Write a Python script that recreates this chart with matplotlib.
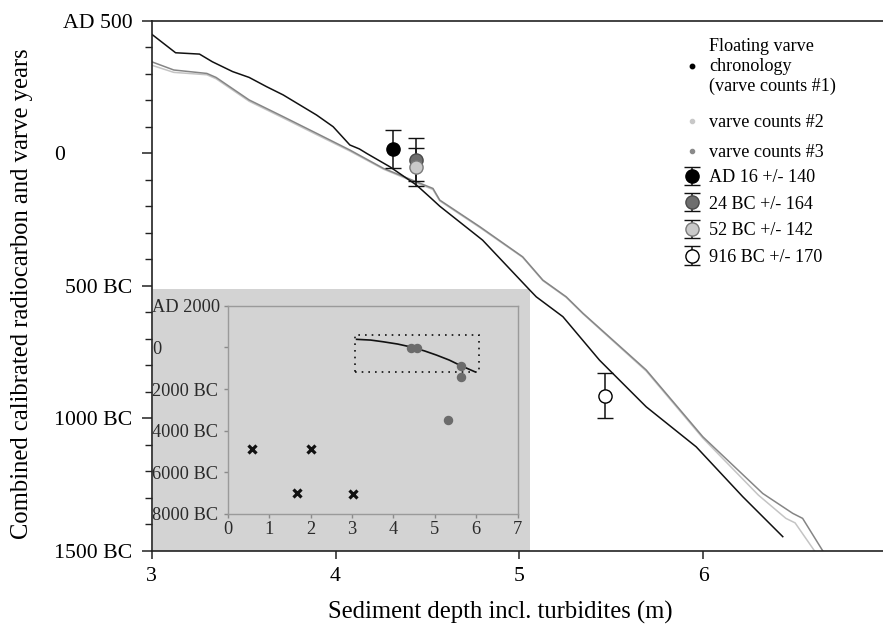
import matplotlib
matplotlib.use("Agg")
import matplotlib.pyplot as plt
from matplotlib.lines import Line2D
from matplotlib.patches import Rectangle

plt.rcParams['font.family'] = ['Liberation Serif', 'DejaVu Serif']

# ---------------- data ----------------
# Floating varve chronology (varve counts #1): depth (m), year (AD +, BC -)
depth1 = [3.00, 3.13, 3.26, 3.33, 3.44, 3.53, 3.625, 3.715, 3.806, 3.897, 3.987,
          4.078, 4.13, 4.17, 4.295, 4.44, 4.52, 4.567, 4.80, 5.056, 5.092, 5.237,
          5.436, 5.69, 5.962, 6.215, 6.433]
years1 = [449, 379, 374, 345, 308, 286, 251, 220, 182, 144, 100,
          31, 16, -1, -51, -120, -170, -200, -328, -516, -542, -617,
          -781, -957, -1108, -1296, -1447]

# varve counts #2
depth2 = [3.00, 3.12, 3.30, 3.35, 3.53, 3.715, 3.897, 4.078, 4.26, 4.44, 4.53,
          4.567, 4.784, 5.018, 5.128, 5.255, 5.346, 5.69, 5.998, 6.30, 6.45,
          6.50, 6.605]
years2 = [332, 305, 296, 281, 196, 133, 70, 8, -60, -112, -137,
          -180, -280, -393, -481, -544, -606, -822, -1075, -1290, -1378,
          -1395, -1500]

# varve counts #3
depth3 = [3.00, 3.12, 3.30, 3.35, 3.53, 3.715, 3.897, 4.078, 4.26, 4.44, 4.53,
          4.567, 4.784, 5.018, 5.128, 5.255, 5.346, 5.69, 5.998, 6.324, 6.487,
          6.541, 6.65]
years3 = [345, 314, 301, 286, 201, 138, 75, 12, -57, -108, -133,
          -177, -277, -391, -479, -542, -604, -818, -1070, -1284, -1359,
          -1378, -1500]

# calibrated radiocarbon dates
pt_labels = ["AD 16 +/- 140", "24 BC +/- 164", "52 BC +/- 142", "916 BC +/- 170"]
pt_depth = [4.313, 4.436, 4.436, 5.467]
pt_year = [16, -24, -52, -916]
pt_err = [70, 82, 71, 85]
pt_colors = ['#000000', '#6e6e6e', '#cacaca', '#ffffff']
pt_edges = ['#000000', '#4a4a4a', '#7a7a7a', '#000000']

# main axis ticks
x_ticks = [3, 4, 5, 6, 7]
y_ticks = [500, 0, -500, -1000, -1500]
y_ticklabels = ["AD 500", "0" + " " * 12, "500 BC", "1000 BC", "1500 BC"]

# inset data
inset_cross_x = [0.59, 1.68, 2.00, 3.02]
inset_cross_y = [-4875, -6990, -4889, -7019]
inset_dot_x = [4.42, 4.58, 5.31, 5.63, 5.63]
inset_dot_y = [-19, -48, -3510, -913, -1428]
inset_line_x = [3.11, 3.45, 3.75, 4.10, 4.40, 4.75, 5.04, 5.35, 5.60, 5.97]
inset_line_y = [385, 350, 269, 160, 29, -170, -370, -610, -851, -1173]
inset_box_x = [3.08, 6.07]
inset_box_y = [-1170, 590]
inset_xticks = [0, 1, 2, 3, 4, 5, 6, 7]
inset_yticks = [2000, 0, -2000, -4000, -6000, -8000]
inset_yticklabels = ["AD 2000", "0", "2000 BC", "4000 BC", "6000 BC", "8000 BC"]

# ---------------- figure ----------------
W, H = 883, 625
fig = plt.figure(figsize=(W / 100, H / 100), dpi=100)

ax_l, ax_r, ax_t, ax_b = 151.7, 887.0, 20.7, 550.7
ax = fig.add_axes([ax_l / W, 1 - ax_b / H, (ax_r - ax_l) / W, (ax_b - ax_t) / H])
ax.set_xlim(3, 7)
ax.set_ylim(-1500, 500)

spine_c = '#222222'
for s in ax.spines.values():
    s.set_linewidth(1.2)
    s.set_color(spine_c)

ax.set_xticks(x_ticks)
ax.set_xticklabels([str(v) for v in x_ticks])
ax.set_yticks(y_ticks)
ax.set_yticklabels(y_ticklabels)
ax.set_yticks(list(range(-1500, 501, 100)), minor=True)
ax.tick_params(axis='both', which='major', direction='out', length=6, width=1.1,
               color=spine_c, labelsize=15.7, pad=6)
ax.tick_params(axis='y', which='major', length=7, pad=7)
ax.tick_params(axis='y', which='minor', direction='out', length=5, width=1.0, color=spine_c)
ax.tick_params(axis='x', which='minor', length=0)

# gray inset panel
panel = Rectangle((0.0015, 0.0), (530 - ax_l) / (ax_r - ax_l) - 0.0015,
                  (ax_b - 289) / (ax_b - ax_t), transform=ax.transAxes,
                  facecolor='#d3d3d3', edgecolor='none', zorder=0.5)
ax.add_patch(panel)

# curves
ax.plot(depth2, years2, color='#c4c4c4', lw=1.1, zorder=2)
ax.plot(depth3, years3, color='#858585', lw=1.1, zorder=2.1)
ax.plot(depth1, years1, color='#111111', lw=1.1, zorder=2.2)

# dated points with error bars (52 BC drawn beneath 24 BC)
containers = {}
for i in [3, 2, 0, 1]:
    c = ax.errorbar(pt_depth[i], pt_year[i], yerr=pt_err[i], fmt='o', ms=9.5,
                    mfc=pt_colors[i], mec=pt_edges[i], mew=1.0, ecolor='#111111',
                    elinewidth=1.1, capsize=6, capthick=1.1, zorder=4 + i * 0.01)
    containers[i] = c

ax.set_xlabel("Sediment depth incl. turbidites (m)", fontsize=17.7)
ax.xaxis.set_label_coords((500 - ax_l) / (ax_r - ax_l), (ax_b - 612) / (ax_b - ax_t))
ax.xaxis.label.set_va('center')
ax.set_ylabel("Combined calibrated radiocarbon and varve years", fontsize=17.7)
ax.yaxis.set_label_coords((22 - ax_l) / (ax_r - ax_l), (ax_b - 294) / (ax_b - ax_t))
ax.yaxis.label.set_va('center')

# legends
leg_kw = dict(loc='upper left', bbox_transform=fig.transFigure, frameon=False,
              borderpad=0, borderaxespad=0, handlelength=1.0, handletextpad=0.45,
              fontsize=13.1)
line_handles = [
    Line2D([], [], ls='none', marker='o', ms=3.2, color='#000000'),
    Line2D([], [], ls='none', marker='o', ms=3.0, color='#c8c8c8'),
    Line2D([], [], ls='none', marker='o', ms=3.0, color='#8a8a8a'),
]
line_labels = ["Floating varve\nchronology\n(varve counts #1)", "varve counts #2", "varve counts #3"]
leg1a = ax.legend(line_handles[:1], line_labels[:1], bbox_to_anchor=(683 / W, 1 - 38 / H),
                  **leg_kw)
ax.add_artist(leg1a)
leg1b = ax.legend(line_handles[1:], line_labels[1:], bbox_to_anchor=(683 / W, 1 - 114 / H),
                  labelspacing=0.72, **leg_kw)
ax.add_artist(leg1b)
leg2 = ax.legend([containers[i] for i in range(4)], pt_labels,
                 bbox_to_anchor=(683 / W, 1 - 169 / H), labelspacing=0.53, **leg_kw)

# ---------------- inset ----------------
in_l, in_r, in_t, in_b = 228.0, 517.5, 305.7, 514.0
axi = fig.add_axes([in_l / W, 1 - in_b / H, (in_r - in_l) / W, (in_b - in_t) / H])
axi.set_facecolor('#d3d3d3')
axi.set_xlim(0, 7)
axi.set_ylim(-8000, 2000)
for s in axi.spines.values():
    s.set_color('#9a9a9a')
    s.set_linewidth(1.0)
axi.set_xticks(inset_xticks)
axi.set_xticklabels([str(v) for v in inset_xticks])
axi.set_yticks(inset_yticks)
axi.set_yticklabels(inset_yticklabels)
axi.tick_params(axis='both', direction='out', length=3, width=1.0, color='#8a8a8a',
                labelsize=13.2, labelcolor='#2a2a2a')
axi.tick_params(axis='y', pad=(in_l - 3 - 153) * 72 / 100)
axi.tick_params(axis='x', pad=2)
for lab in axi.get_yticklabels():
    lab.set_ha('left')

axi.add_patch(Rectangle((inset_box_x[0], inset_box_y[0]), inset_box_x[1] - inset_box_x[0],
                        inset_box_y[1] - inset_box_y[0], fill=False, edgecolor='#111111',
                        lw=1.2, linestyle=(0, (1, 3))))
axi.plot(inset_line_x, inset_line_y, color='#111111', lw=1.2)
axi.plot(inset_dot_x, inset_dot_y, ls='none', marker='o', ms=5.8, color='#6b6b6b')
axi.plot(inset_cross_x, inset_cross_y, ls='none', marker='x', ms=5.2, mew=2.3, color='#111111')

fig.savefig("out.png", dpi=100)
